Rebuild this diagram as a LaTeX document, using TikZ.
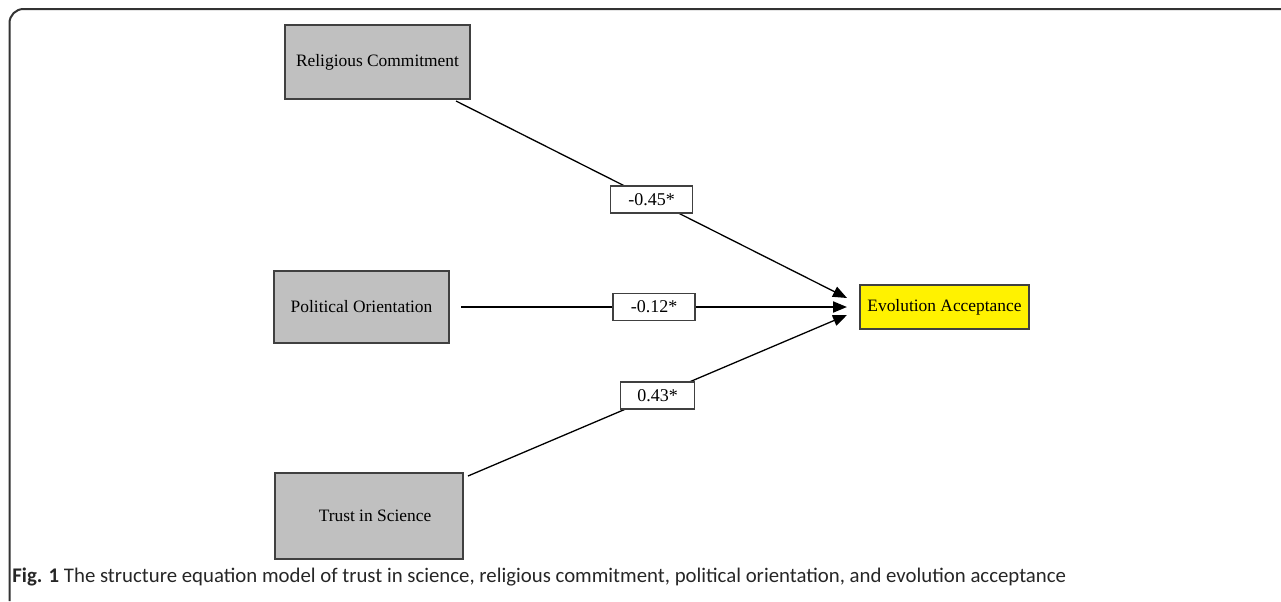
\documentclass[tikz,border=0pt]{standalone}
\usepackage{fontspec}
\setmainfont{Liberation Serif}
\newfontfamily\capfont{Carlito}
\usepackage{xcolor}
\definecolor{boxgray}{HTML}{C0C0C0}
\definecolor{framegray}{HTML}{333333}
\usetikzlibrary{arrows.meta, positioning}
\tikzset{
  factor/.style={draw=black!75, line width=0.7pt, fill=boxgray, inner sep=0pt,
    font=\fontsize{8.7}{10}\selectfont},
  outcome/.style={draw=black!75, line width=0.7pt, fill=yellow, inner sep=0pt,
    font=\fontsize{8.7}{10}\selectfont},
  coef/.style={draw=black!75, line width=0.6pt, fill=white, inner sep=0pt,
    minimum height=13.5pt, font=\fontsize{9}{10}\selectfont},
  effect/.style={-{Triangle[length=7pt,width=5.5pt]}, line width=0.65pt}
}

\begin{document}
\begin{tikzpicture}[x=0.5pt, y=-0.5pt]
  \useasboundingbox (0,0) rectangle (1281,601);
  % rahmen
  \draw[framegray, line width=1pt, rounded corners=7pt] (9.5,601) -- (9.5,9) -- (1281,9);
  % faktoren
  \node[factor, minimum width=92.5pt, minimum height=37pt] (relig) at (377.5,62) {Religious Commitment};
  \node[factor, minimum width=87.5pt, minimum height=36pt] (polit) at (361.5,307) {Political Orientation};
  \node[factor, minimum width=94pt, minimum height=43pt] (trust) at (369,516) {\hspace*{6pt}Trust in Science};
  \node[outcome, minimum width=84.5pt, minimum height=22pt] (accept) at (944.5,307) {Evolution Acceptance};
  % anfang und ende der pfade
  \coordinate (relig out) at (456,101);
  \coordinate (polit out) at (461,307);
  \coordinate (trust out) at (468,476);
  \coordinate (accept top) at (847,298);
  \coordinate (accept mid) at (847,307);
  \coordinate (accept low) at (847,315);
  % pfade
  \draw[effect] (relig out) -- (accept top) node[coef, midway, minimum width=41pt] {-0.45*};
  \draw[effect, line width=1pt] (polit out) -- (accept mid) node[coef, midway, minimum width=41pt] {-0.12*};
  \draw[effect] (trust out) -- (accept low) node[coef, midway, minimum width=37pt] {0.43*};
  % bildunterschrift
  \node[anchor=base west, inner sep=0pt, text=black!85, font=\capfont\fontsize{10.4}{12}\selectfont] (caption) at (12,582)
    {\textbf{Fig. 1} The structure equation model of trust in science, religious commitment, political orientation, and evolution acceptance};
\end{tikzpicture}
\end{document}
